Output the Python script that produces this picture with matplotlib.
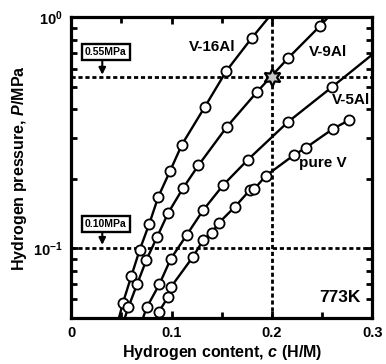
import numpy as np
import matplotlib.pyplot as plt
from matplotlib.ticker import FixedLocator, NullFormatter

plt.rcParams['font.family'] = ['Liberation Sans', 'DejaVu Sans']
plt.rcParams['font.weight'] = 'bold'
plt.rcParams['mathtext.fontset'] = 'custom'
plt.rcParams['mathtext.rm'] = 'Liberation Sans:bold'
plt.rcParams['mathtext.bf'] = 'Liberation Sans:bold'
plt.rcParams['mathtext.it'] = 'Liberation Sans:italic:bold'

# PCT data at 773K, c in H/M, P in MPa (end points outside the axes only carry the line)
c_v16 = [0.045, 0.0517, 0.0599, 0.0683, 0.0778, 0.0869, 0.0987, 0.1104, 0.1333, 0.1547, 0.1799, 0.215]
p_v16 = [0.045, 0.0581, 0.0755, 0.0983, 0.1274, 0.1674, 0.2169, 0.2816, 0.4108, 0.5876, 0.8151, 1.25]

c_v9 = [0.050, 0.0570, 0.0657, 0.0750, 0.0856, 0.0968, 0.1114, 0.1267, 0.1552, 0.1853, 0.2159, 0.2478, 0.28]
p_v9 = [0.045, 0.0554, 0.0698, 0.0890, 0.1119, 0.1426, 0.1820, 0.2285, 0.3364, 0.4771, 0.6657, 0.9187, 1.3]

c_v5 = [0.068, 0.0753, 0.0879, 0.0992, 0.1151, 0.1316, 0.1515, 0.1757, 0.2159, 0.2594, 0.31]
p_v5 = [0.045, 0.0554, 0.0698, 0.0899, 0.1142, 0.1465, 0.1880, 0.2413, 0.3526, 0.4983, 0.75]

c_pv = [0.083, 0.0876, 0.0965, 0.0995, 0.1214, 0.1316, 0.1398, 0.1470, 0.1632, 0.1781, 0.1821,
        0.1940, 0.2219, 0.2338, 0.2604, 0.2769]
p_pv = [0.046, 0.0532, 0.0615, 0.0680, 0.0919, 0.1086, 0.1165, 0.1287, 0.1514, 0.1789, 0.1801,
        0.2063, 0.2536, 0.2728, 0.3287, 0.3596]

series = [(c_v16, p_v16), (c_v9, p_v9), (c_v5, p_v5), (c_pv, p_pv)]

c_mark = 0.2
p_mark = 0.55
p_ref = 0.10

fig = plt.figure(figsize=(3.86, 3.64), dpi=100)
ax = fig.add_axes([0.184, 0.127, 0.781, 0.825])

for c, p in series:
    ax.plot(c, p, '-', color='k', lw=1.7, marker='o', ms=7.3, mfc='white', mec='k', mew=1.3)

# guide lines
for y in [p_mark, p_ref]:
    ax.axhline(y, color='k', lw=2, dashes=(1.5, 1.0), zorder=1)
ax.axvline(c_mark, color='k', lw=2, dashes=(1.5, 1.0), zorder=1)

ax.plot([c_mark], [p_mark], marker=(6, 1, 0), ms=13, mfc='#c8c8c8', mec='k', mew=1.6, zorder=5)

# boxed pressure labels with arrows down to the guide lines
for y_txt, y_top, y_tip, txt in [(0.707, 0.648, 0.565, '0.55MPa'), (0.1276, 0.1199, 0.1035, '0.10MPa')]:
    ax.annotate('', xy=(0.0311, y_tip), xytext=(0.0311, y_top),
                arrowprops=dict(arrowstyle='-|>', color='k', lw=1.5, mutation_scale=10,
                                shrinkA=0, shrinkB=0))
    ax.text(0.0345, y_txt, txt, fontsize=7.5, fontweight='bold', ha='center', va='center',
            bbox=dict(boxstyle='square,pad=0.3', fc='white', ec='k', lw=1.7))

ax.text(0.140, 0.747, 'V-16Al', fontsize=11, ha='center', va='center')
ax.text(0.2557, 0.711, 'V-9Al', fontsize=11, ha='center', va='center')
ax.text(0.2786, 0.439, 'V-5Al', fontsize=11, ha='center', va='center')
ax.text(0.2507, 0.2335, 'pure V', fontsize=11, ha='center', va='center')
ax.text(0.2677, 0.0613, '773K', fontsize=12.5, ha='center', va='center')

ax.set_yscale('log')
ax.set_xlim(0, 0.3)
ax.set_ylim(0.05, 1.0)

ax.xaxis.set_major_locator(FixedLocator([0, 0.1, 0.2, 0.3]))
ax.xaxis.set_minor_locator(FixedLocator([0.05, 0.15, 0.25]))
ax.set_xticklabels(['0', '0.1', '0.2', '0.3'])
ax.yaxis.set_major_locator(FixedLocator([0.1, 1.0]))
ax.yaxis.set_minor_locator(FixedLocator([0.06, 0.07, 0.08, 0.09] + [0.2, 0.3, 0.4, 0.5, 0.6, 0.7, 0.8, 0.9]))
ax.yaxis.set_minor_formatter(NullFormatter())
ax.set_yticklabels([r'$\mathbf{10^{-1}}$', r'$\mathbf{10^{0}}$'])

ax.tick_params(which='both', direction='in', top=True, right=True, width=2, labelsize=10.5, pad=6)
ax.tick_params(which='major', length=5)
ax.tick_params(which='minor', length=4)
for s in ax.spines.values():
    s.set_linewidth(2.3)

ax.set_xlabel(r'Hydrogen content, $c$ (H/M)', fontsize=11.5, fontweight='bold', labelpad=2)
ax.set_ylabel(r'Hydrogen pressure, $P$/MPa', fontsize=11.5, fontweight='bold', labelpad=3)

fig.savefig('out.png', dpi=100)
